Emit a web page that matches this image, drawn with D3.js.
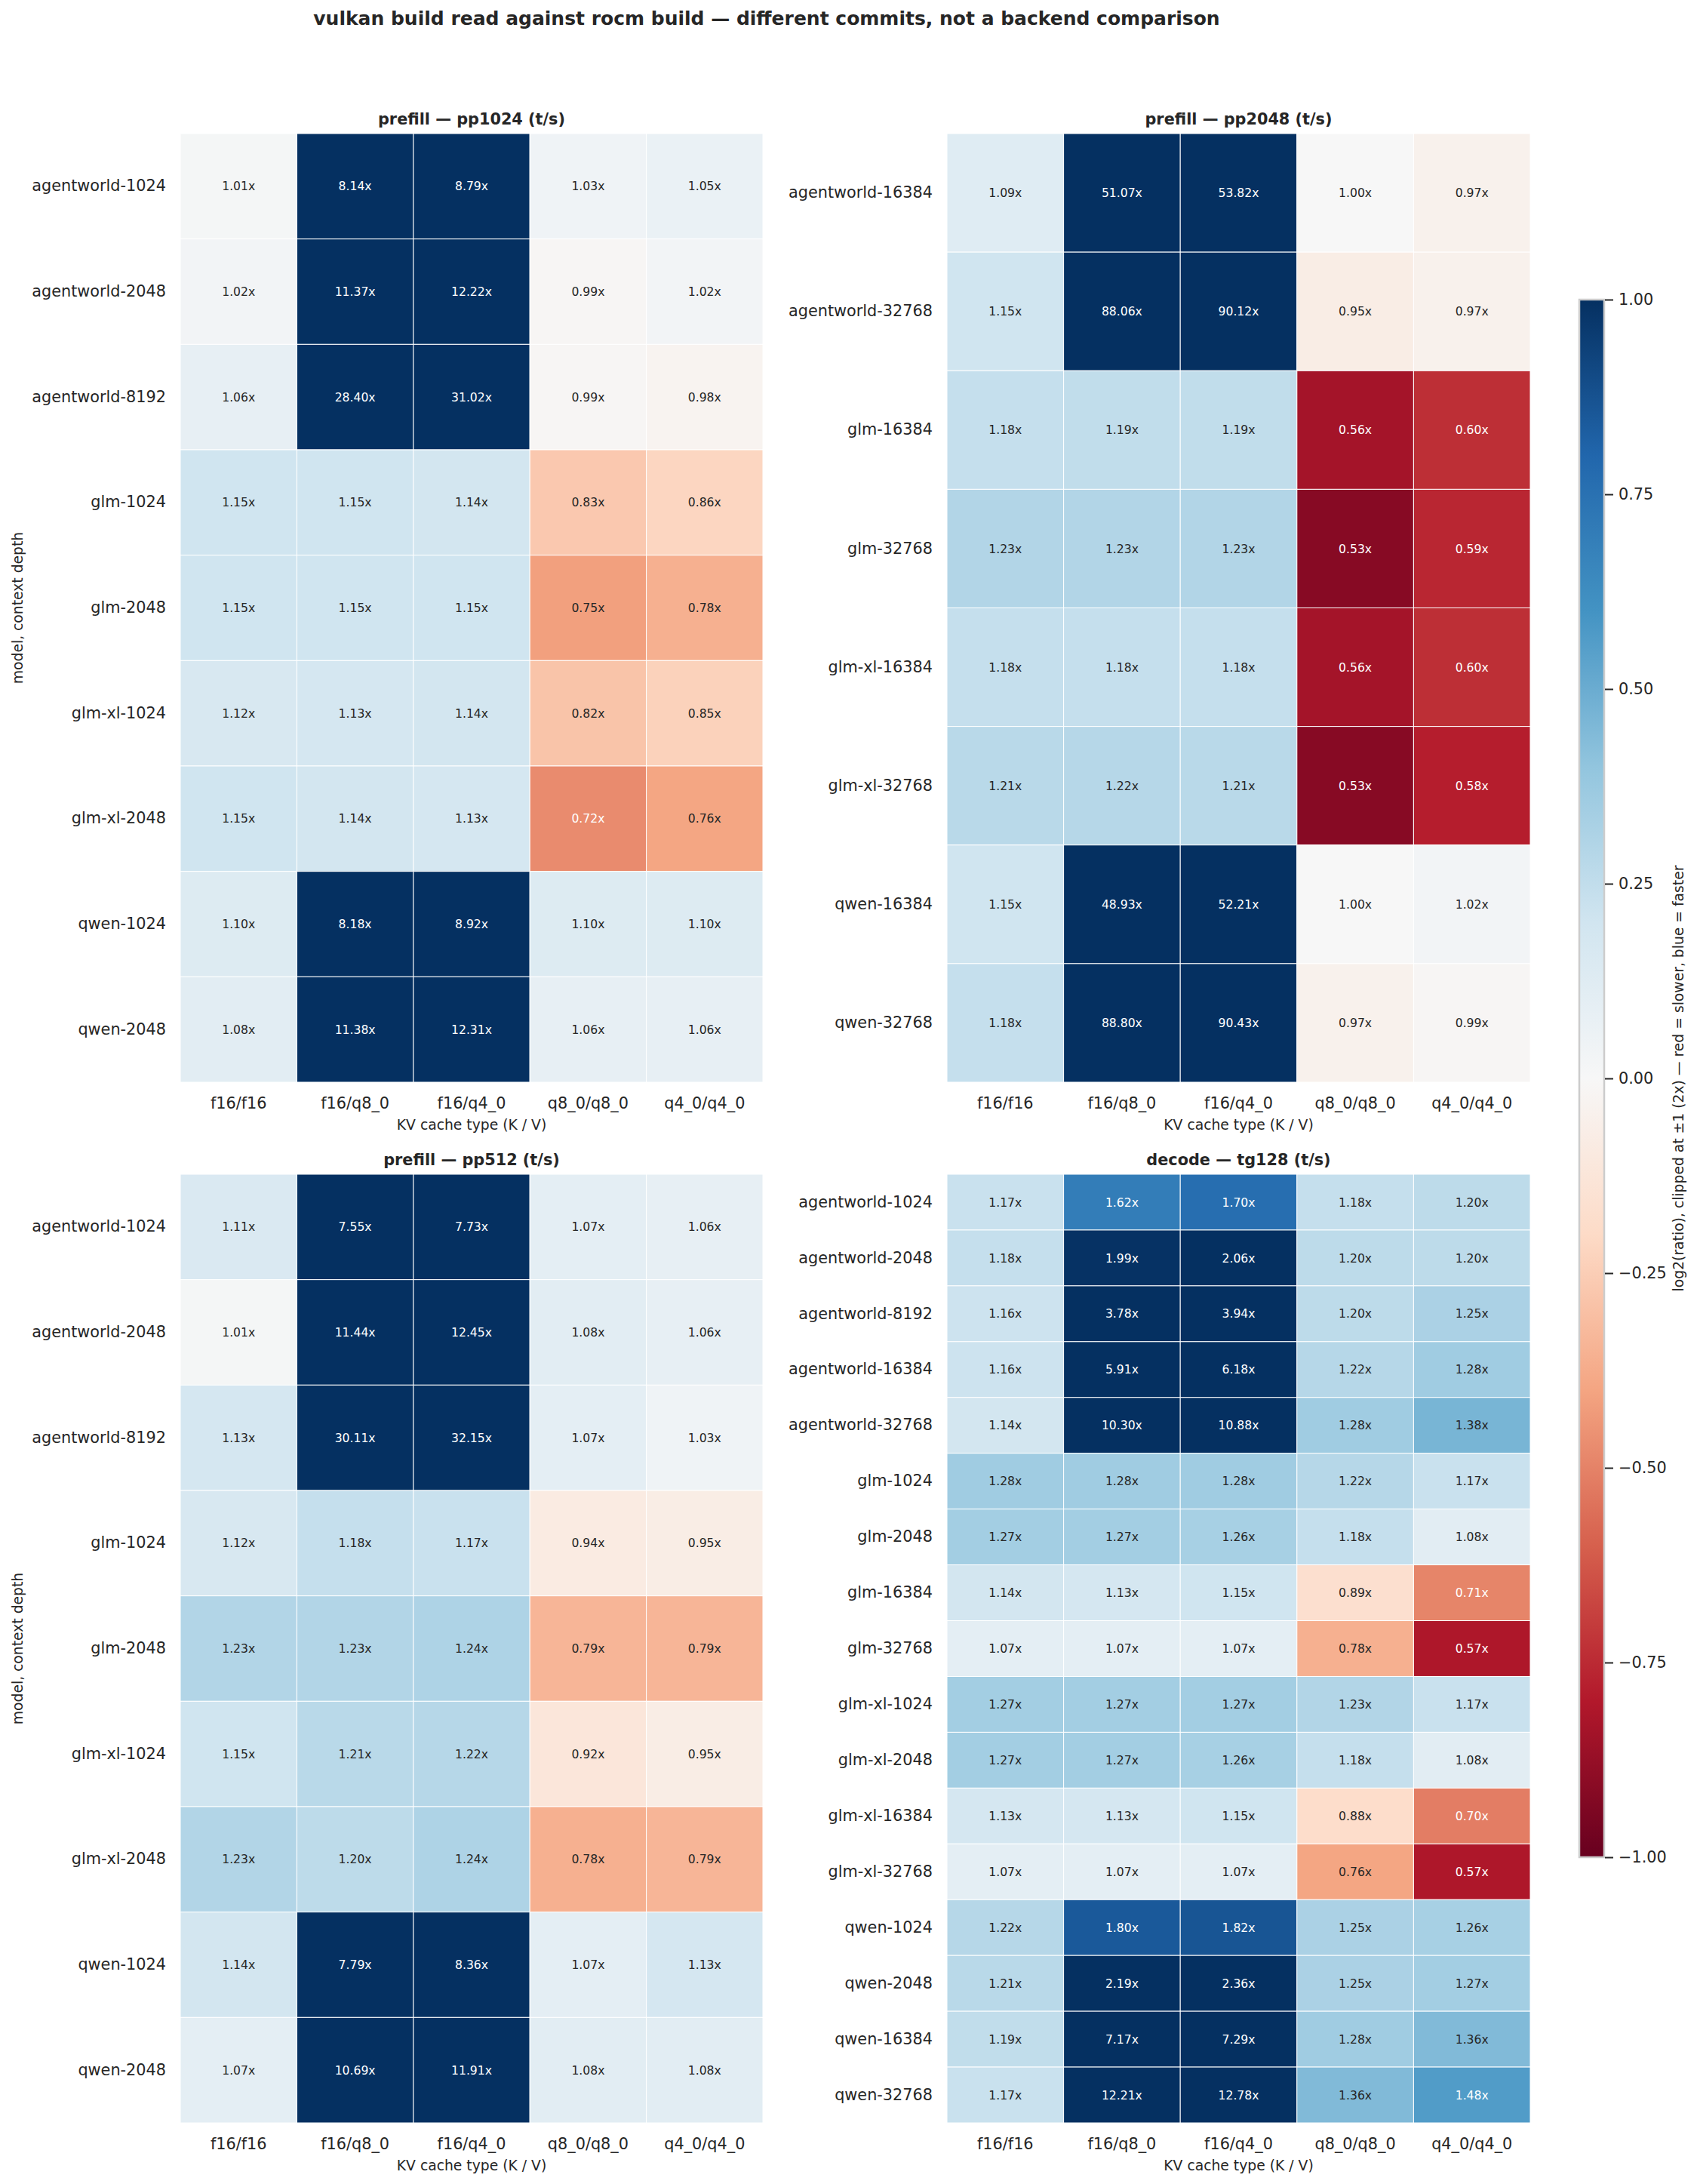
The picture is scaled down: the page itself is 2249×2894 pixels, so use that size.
<!DOCTYPE html>
<html>
<head>
<meta charset="utf-8">
<script src="https://cdn.jsdelivr.net/npm/d3@7"></script>
<style>
body { margin: 0; background: #fff; }
text { font-family: "DejaVu Sans", sans-serif; fill: #262626; }
</style>
</head>
<body>
<div id="chart"></div>
<script>
// KV cache types (columns, same for every panel)
const kvTypes = ["f16/f16", "f16/q8_0", "f16/q4_0", "q8_0/q8_0", "q4_0/q4_0"];

// prefill pp1024
const pp1024Rows = ["agentworld-1024", "agentworld-2048", "agentworld-8192", "glm-1024", "glm-2048",
    "glm-xl-1024", "glm-xl-2048", "qwen-1024", "qwen-2048"];
const pp1024Ratios = [
    [1.01, 8.14, 8.79, 1.03, 1.05],
    [1.02, 11.37, 12.22, 0.99, 1.02],
    [1.06, 28.40, 31.02, 0.99, 0.98],
    [1.15, 1.15, 1.14, 0.83, 0.86],
    [1.15, 1.15, 1.15, 0.75, 0.78],
    [1.12, 1.13, 1.14, 0.82, 0.85],
    [1.15, 1.14, 1.13, 0.72, 0.76],
    [1.10, 8.18, 8.92, 1.10, 1.10],
    [1.08, 11.38, 12.31, 1.06, 1.06]
];

// prefill pp2048
const pp2048Rows = ["agentworld-16384", "agentworld-32768", "glm-16384", "glm-32768",
    "glm-xl-16384", "glm-xl-32768", "qwen-16384", "qwen-32768"];
const pp2048Ratios = [
    [1.09, 51.07, 53.82, 1.00, 0.97],
    [1.15, 88.06, 90.12, 0.95, 0.97],
    [1.18, 1.19, 1.19, 0.56, 0.60],
    [1.23, 1.23, 1.23, 0.53, 0.59],
    [1.18, 1.18, 1.18, 0.56, 0.60],
    [1.21, 1.22, 1.21, 0.53, 0.58],
    [1.15, 48.93, 52.21, 1.00, 1.02],
    [1.18, 88.80, 90.43, 0.97, 0.99]
];

// prefill pp512
const pp512Rows = ["agentworld-1024", "agentworld-2048", "agentworld-8192", "glm-1024", "glm-2048",
    "glm-xl-1024", "glm-xl-2048", "qwen-1024", "qwen-2048"];
const pp512Ratios = [
    [1.11, 7.55, 7.73, 1.07, 1.06],
    [1.01, 11.44, 12.45, 1.08, 1.06],
    [1.13, 30.11, 32.15, 1.07, 1.03],
    [1.12, 1.18, 1.17, 0.94, 0.95],
    [1.23, 1.23, 1.24, 0.79, 0.79],
    [1.15, 1.21, 1.22, 0.92, 0.95],
    [1.23, 1.20, 1.24, 0.78, 0.79],
    [1.14, 7.79, 8.36, 1.07, 1.13],
    [1.07, 10.69, 11.91, 1.08, 1.08]
];

// decode tg128
const tg128Rows = ["agentworld-1024", "agentworld-2048", "agentworld-8192", "agentworld-16384", "agentworld-32768",
    "glm-1024", "glm-2048", "glm-16384", "glm-32768",
    "glm-xl-1024", "glm-xl-2048", "glm-xl-16384", "glm-xl-32768",
    "qwen-1024", "qwen-2048", "qwen-16384", "qwen-32768"];
const tg128Ratios = [
    [1.17, 1.62, 1.70, 1.18, 1.20],
    [1.18, 1.99, 2.06, 1.20, 1.20],
    [1.16, 3.78, 3.94, 1.20, 1.25],
    [1.16, 5.91, 6.18, 1.22, 1.28],
    [1.14, 10.30, 10.88, 1.28, 1.38],
    [1.28, 1.28, 1.28, 1.22, 1.17],
    [1.27, 1.27, 1.26, 1.18, 1.08],
    [1.14, 1.13, 1.15, 0.89, 0.71],
    [1.07, 1.07, 1.07, 0.78, 0.57],
    [1.27, 1.27, 1.27, 1.23, 1.17],
    [1.27, 1.27, 1.26, 1.18, 1.08],
    [1.13, 1.13, 1.15, 0.88, 0.70],
    [1.07, 1.07, 1.07, 0.76, 0.57],
    [1.22, 1.80, 1.82, 1.25, 1.26],
    [1.21, 2.19, 2.36, 1.25, 1.27],
    [1.19, 7.17, 7.29, 1.28, 1.36],
    [1.17, 12.21, 12.78, 1.36, 1.48]
];

const cbTicks = [-1, -0.75, -0.5, -0.25, 0, 0.25, 0.5, 0.75, 1];

const width = 2249, height = 2894;

const svg = d3.select("#chart").append("svg")
    .attr("width", width)
    .attr("height", height);

// matplotlib RdBu, linear between the 11 brewer colours
const rdbu = ["#67001f", "#b2182b", "#d6604d", "#f4a582", "#fddbc7", "#f7f7f7",
    "#d1e5f0", "#92c5de", "#4393c3", "#2166ac", "#053061"];
const color = d3.scaleLinear()
    .domain(d3.range(11).map(i => -1 + i * 0.2))
    .range(rdbu)
    .interpolate(d3.interpolateRgb)
    .clamp(true);

function luminance(c) {
    let rgb = d3.rgb(c);
    let lin = v => { v = v / 255; return v <= 0.03928 ? v / 12.92 : Math.pow((v + 0.055) / 1.055, 2.4); };
    return 0.2126 * lin(rgb.r) + 0.7152 * lin(rgb.g) + 0.0722 * lin(rgb.b);
}

function drawPanel(box, title, rows, ratios, showYLabel) {
    let g = svg.append("g");

    let x = d3.scaleBand().domain(kvTypes).range([box.x0, box.x1]);
    let y = d3.scaleBand().domain(rows).range([box.y0, box.y1]);

    let cells = [];
    rows.forEach((r, i) => kvTypes.forEach((k, j) => cells.push({row: r, kv: k, ratio: ratios[i][j]})));

    g.selectAll(".cell")
        .data(cells)
        .enter().append("rect")
        .attr("class", "cell")
        .attr("x", d => x(d.kv))
        .attr("y", d => y(d.row))
        .attr("width", x.bandwidth())
        .attr("height", y.bandwidth())
        .attr("fill", d => color(Math.log2(d.ratio)))
        .attr("stroke", "#fff")
        .attr("stroke-width", 1);

    g.selectAll(".annot")
        .data(cells)
        .enter().append("text")
        .attr("class", "annot")
        .attr("x", d => x(d.kv) + x.bandwidth() / 2)
        .attr("y", d => y(d.row) + y.bandwidth() / 2)
        .attr("dy", "0.36em")
        .attr("text-anchor", "middle")
        .style("font-size", "15.6px")
        .style("fill", d => luminance(color(Math.log2(d.ratio))) > 0.408 ? "#262626" : "#ffffff")
        .text(d => d.ratio.toFixed(2) + "x");

    let xAxis = g.append("g")
        .attr("transform", `translate(0,${box.y1})`)
        .call(d3.axisBottom(x).tickSize(0).tickPadding(20));
    let yAxis = g.append("g")
        .attr("transform", `translate(${box.x0},0)`)
        .call(d3.axisLeft(y).tickSize(0).tickPadding(19));
    [xAxis, yAxis].forEach(a => {
        a.select(".domain").remove();
        a.selectAll("text")
            .style("font-family", "DejaVu Sans")
            .style("font-size", "20.8px")
            .attr("fill", "#262626");
    });

    g.append("text")
        .attr("x", (box.x0 + box.x1) / 2)
        .attr("y", box.y0 - 12)
        .attr("text-anchor", "middle")
        .style("font-size", "20.8px")
        .style("font-weight", "bold")
        .text(title);

    g.append("text")
        .attr("x", (box.x0 + box.x1) / 2)
        .attr("y", box.y1 + 63)
        .attr("text-anchor", "middle")
        .style("font-size", "18.75px")
        .text("KV cache type (K / V)");

    if (showYLabel) {
        g.append("text")
            .attr("transform", `translate(30, ${(box.y0 + box.y1) / 2}) rotate(-90)`)
            .attr("text-anchor", "middle")
            .style("font-size", "18.75px")
            .text("model, context depth");
    }
}

const left = {x0: 239, x1: 1011}, right = {x0: 1255, x1: 2028};
const top_ = {y0: 177, y1: 1434}, bottom = {y0: 1556, y1: 2813};

drawPanel({...left, ...top_}, "prefill \u2014 pp1024 (t/s)", pp1024Rows, pp1024Ratios, true);
drawPanel({...right, ...top_}, "prefill \u2014 pp2048 (t/s)", pp2048Rows, pp2048Ratios, false);
drawPanel({...left, ...bottom}, "prefill \u2014 pp512 (t/s)", pp512Rows, pp512Ratios, true);
drawPanel({...right, ...bottom}, "decode \u2014 tg128 (t/s)", tg128Rows, tg128Ratios, false);

// colour bar
const cb = {x0: 2093, x1: 2126, y0: 397, y1: 2461};
const cbScale = d3.scaleLinear().domain([-1, 1]).range([cb.y1, cb.y0]);

const grad = svg.append("defs").append("linearGradient")
    .attr("id", "cbgrad")
    .attr("x1", 0).attr("y1", 1).attr("x2", 0).attr("y2", 0);
grad.selectAll("stop")
    .data(color.domain())
    .enter().append("stop")
    .attr("offset", d => (d + 1) / 2)
    .attr("stop-color", d => color(d));

svg.append("rect")
    .attr("x", cb.x0)
    .attr("y", cb.y0)
    .attr("width", cb.x1 - cb.x0)
    .attr("height", cb.y1 - cb.y0)
    .attr("fill", "url(#cbgrad)")
    .attr("stroke", "#cccccc")
    .attr("stroke-width", 2.5);

const cbAxis = svg.append("g")
    .attr("transform", `translate(${cb.x1 + 1},0)`)
    .call(d3.axisRight(cbScale).tickValues(cbTicks).tickFormat(d3.format(".2f")).tickSize(11).tickPadding(7));
cbAxis.select(".domain").remove();
cbAxis.selectAll("line").attr("stroke", "#262626").attr("stroke-width", 2);
cbAxis.selectAll("text")
    .style("font-family", "DejaVu Sans")
    .style("font-size", "20.8px")
    .attr("fill", "#262626");

svg.append("text")
    .attr("transform", `translate(2231, ${(cb.y0 + cb.y1) / 2}) rotate(-90)`)
    .attr("text-anchor", "middle")
    .style("font-size", "18.75px")
    .text("log2(ratio), clipped at \u00b11 (2x) \u2014 red = slower, blue = faster");

// figure title
svg.append("text")
    .attr("x", 1016)
    .attr("y", 33)
    .attr("text-anchor", "middle")
    .style("font-size", "25px")
    .style("font-weight", "bold")
    .text("vulkan build read against rocm build \u2014 different commits, not a backend comparison");
</script>
</body>
</html>
